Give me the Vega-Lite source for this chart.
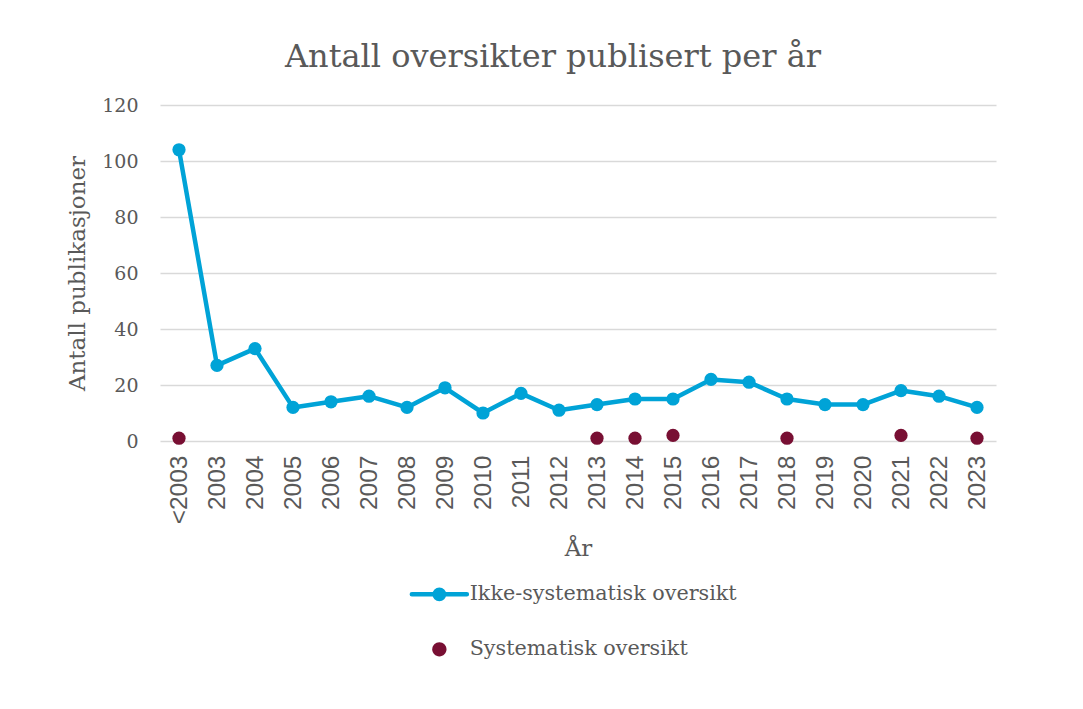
{
  "$schema": "https://vega.github.io/schema/vega-lite/v6.json",
  "width": 836,
  "height": 336,
  "autosize": {"type": "none"},
  "padding": {"left": 160, "top": 105, "right": 87, "bottom": 268},
  "background": "white",
  "title": {
    "text": "Antall oversikter publisert per år",
    "font": "DejaVu Serif",
    "fontSize": 32,
    "fontWeight": "normal",
    "color": "#595959",
    "anchor": "middle",
    "dx": -25,
    "offset": 22
  },
  "data": {
    "values": [
      {"year": "<2003", "series": "Ikke-systematisk oversikt", "value": 104},
      {"year": "2003", "series": "Ikke-systematisk oversikt", "value": 27},
      {"year": "2004", "series": "Ikke-systematisk oversikt", "value": 33},
      {"year": "2005", "series": "Ikke-systematisk oversikt", "value": 12},
      {"year": "2006", "series": "Ikke-systematisk oversikt", "value": 14},
      {"year": "2007", "series": "Ikke-systematisk oversikt", "value": 16},
      {"year": "2008", "series": "Ikke-systematisk oversikt", "value": 12},
      {"year": "2009", "series": "Ikke-systematisk oversikt", "value": 19},
      {"year": "2010", "series": "Ikke-systematisk oversikt", "value": 10},
      {"year": "2011", "series": "Ikke-systematisk oversikt", "value": 17},
      {"year": "2012", "series": "Ikke-systematisk oversikt", "value": 11},
      {"year": "2013", "series": "Ikke-systematisk oversikt", "value": 13},
      {"year": "2014", "series": "Ikke-systematisk oversikt", "value": 15},
      {"year": "2015", "series": "Ikke-systematisk oversikt", "value": 15},
      {"year": "2016", "series": "Ikke-systematisk oversikt", "value": 22},
      {"year": "2017", "series": "Ikke-systematisk oversikt", "value": 21},
      {"year": "2018", "series": "Ikke-systematisk oversikt", "value": 15},
      {"year": "2019", "series": "Ikke-systematisk oversikt", "value": 13},
      {"year": "2020", "series": "Ikke-systematisk oversikt", "value": 13},
      {"year": "2021", "series": "Ikke-systematisk oversikt", "value": 18},
      {"year": "2022", "series": "Ikke-systematisk oversikt", "value": 16},
      {"year": "2023", "series": "Ikke-systematisk oversikt", "value": 12},
      {"year": "<2003", "series": "Systematisk oversikt", "value": 1},
      {"year": "2013", "series": "Systematisk oversikt", "value": 1},
      {"year": "2014", "series": "Systematisk oversikt", "value": 1},
      {"year": "2015", "series": "Systematisk oversikt", "value": 2},
      {"year": "2018", "series": "Systematisk oversikt", "value": 1},
      {"year": "2021", "series": "Systematisk oversikt", "value": 2},
      {"year": "2023", "series": "Systematisk oversikt", "value": 1}
    ]
  },
  "encoding": {
    "x": {
      "field": "year",
      "type": "ordinal",
      "sort": ["<2003","2003","2004","2005","2006","2007","2008","2009","2010","2011","2012","2013","2014","2015","2016","2017","2018","2019","2020","2021","2022","2023"],
      "scale": {"type": "point", "padding": 0.5},
      "axis": {
        "title": "År",
        "labelAngle": -90,
        "labelFont": "Liberation Sans",
        "labelFontSize": 24.5,
        "labelColor": "#595959",
        "labelPadding": 14,
        "titleFont": "DejaVu Serif",
        "titleFontSize": 23,
        "titleFontWeight": "normal",
        "titleColor": "#595959",
        "titlePadding": 14,
        "ticks": false,
        "domain": false,
        "grid": false
      }
    },
    "y": {
      "field": "value",
      "type": "quantitative",
      "scale": {"domain": [0, 120], "nice": false},
      "axis": {
        "title": "Antall publikasjoner",
        "values": [0, 20, 40, 60, 80, 100, 120],
        "labelFont": "DejaVu Serif",
        "labelFontSize": 19,
        "labelColor": "#595959",
        "labelPadding": 22,
        "titleFont": "DejaVu Serif",
        "titleFontSize": 23,
        "titleFontWeight": "normal",
        "titleColor": "#595959",
        "titlePadding": 12,
        "ticks": false,
        "domain": false,
        "grid": true,
        "gridColor": "#d9d9d9",
        "gridWidth": 1.5
      }
    },
    "color": {
      "field": "series",
      "type": "nominal",
      "scale": {
        "domain": ["Ikke-systematisk oversikt", "Systematisk oversikt"],
        "range": ["#00A3D7", "#780F33"]
      },
      "legend": {
        "title": null,
        "orient": "none",
        "legendX": 269,
        "legendY": 479,
        "direction": "vertical",
        "padding": 0,
        "symbolSize": 3025,
        "symbolStrokeWidth": 4.5,
        "labelFont": "DejaVu Serif",
        "labelFontSize": 20.7,
        "labelColor": "#595959",
        "labelOffset": 20,
        "labelLimit": 500,
        "rowPadding": 29,
        "encode": {
          "symbols": {
            "update": {
              "shape": {"signal": "datum.value === 'Ikke-systematisk oversikt' ? 'M-1,0L1,0M0.17,0A0.17,0.17,0,1,1,-0.17,0A0.17,0.17,0,1,1,0.17,0Z' : 'M0.26,0A0.26,0.26,0,1,1,-0.26,0A0.26,0.26,0,1,1,0.26,0Z'"},
              "fill": {"signal": "datum.value === 'Ikke-systematisk oversikt' ? '#00A3D7' : '#780F33'"},
              "stroke": {"signal": "datum.value === 'Ikke-systematisk oversikt' ? '#00A3D7' : '#780F33'"},
              "strokeWidth": {"signal": "datum.value === 'Ikke-systematisk oversikt' ? 4.5 : 0"},
              "strokeCap": {"value": "round"},
              "opacity": {"value": 1}
            }
          }
        }
      }
    }
  },
  "layer": [
    {
      "transform": [{"filter": "datum.series === 'Ikke-systematisk oversikt'"}],
      "mark": {"type": "line", "strokeWidth": 4.5, "strokeJoin": "round", "strokeCap": "round"}
    },
    {
      "mark": {"type": "point", "filled": true, "size": 175, "opacity": 1}
    }
  ],
  "config": {
    "view": {"stroke": null}
  }
}
